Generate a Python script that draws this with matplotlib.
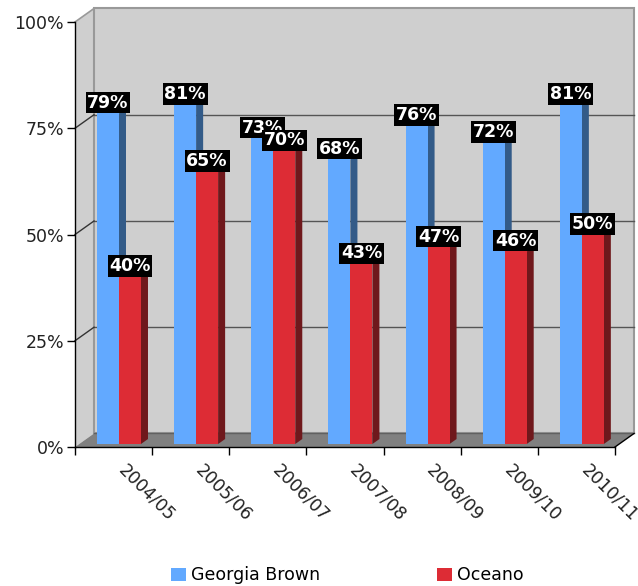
import numpy as np
import matplotlib
matplotlib.use("Agg")
import matplotlib.pyplot as plt
from matplotlib.patches import Polygon, Rectangle, Patch
from matplotlib.transforms import ScaledTranslation

# ---- data ----
seasons = ["2004/05", "2005/06", "2006/07", "2007/08", "2008/09", "2009/10", "2010/11"]
georgia_brown = [79, 81, 73, 68, 76, 72, 81]
oceano = [40, 65, 70, 43, 47, 46, 50]
series_names = ["Georgia Brown", "Oceano"]
y_ticks = [0, 25, 50, 75, 100]
y_tick_labels = ["0%", "25%", "50%", "75%", "100%"]

# ---- look ----
FACE = ["#62A9FF", "#DD2C35"]
SIDE = ["#335B88", "#6F181C"]
TOP = ["#4C8AD2", "#B0242B"]
WALL = "#CFCFCF"
FLOOR = "#808080"
FS = 12.5

# fake 3d: depth of the box in data units, bar placement inside it
DX, DY = 0.2463, 3.18
BAR_Z = 0.22      # front face of bars, fraction of depth
BAR_T = 0.37      # bar thickness, fraction of depth
BAR_W = 0.285
BAR_X = [0.285, 0.57]   # left edge of each series inside its slot
PERSP = 0.985

n = len(seasons)
fig = plt.figure(figsize=(6.38, 5.86), dpi=100)
ax = fig.add_axes([75 / 638, (586 - 447) / 586, 540 / 638, 425 / 586])
ax.set_xlim(0, n)
ax.set_ylim(0, 100)
ax.patch.set_visible(False)

# walls and floor
left_wall = Polygon([(0, 0), (DX, DY), (DX, 100 + DY), (0, 100)], closed=True,
                    fc=WALL, ec="none", zorder=0.5, clip_on=False)
back_wall = Polygon([(DX, DY), (n + DX, DY), (n + DX, 100 + DY), (DX, 100 + DY)], closed=True,
                    fc=WALL, ec="#999999", lw=1.5, zorder=0.5, clip_on=False)
floor = Polygon([(0, 0), (n, 0), (n + DX, DY), (DX, DY)], closed=True,
                fc=FLOOR, ec="none", zorder=0.7, clip_on=False)
ax.add_patch(left_wall)
ax.add_patch(back_wall)
ax.add_patch(floor)
ax.plot([0, DX], [100, 100 + DY], color="#999999", lw=1.2, zorder=0.6, clip_on=False)
ax.plot([DX, n + DX], [DY, DY], color="#606060", lw=1, zorder=0.8, clip_on=False)
ax.plot([n, n + DX], [0, DY], color="black", lw=1, zorder=0.8, clip_on=False)

for v in y_ticks[1:-1]:
    ax.plot([DX, n + DX], [v + DY, v + DY], color="#555555", lw=1, zorder=0.6, clip_on=False)
    ax.plot([0, DX], [v, v + DY], color="#333333", lw=1, zorder=0.6, clip_on=False)

# bars
for k, values in enumerate([georgia_brown, oceano]):
    for i, v in enumerate(values):
        x0 = i + BAR_X[k]
        y0 = BAR_Z * DY
        h = v * PERSP
        tx, ty = BAR_T * DX, BAR_T * DY
        ax.add_patch(Rectangle((x0, y0), BAR_W, h, fc=FACE[k], ec="none", zorder=2 + k))
        ax.add_patch(Polygon([(x0 + BAR_W, y0), (x0 + BAR_W + tx, y0 + ty),
                              (x0 + BAR_W + tx, y0 + h + ty), (x0 + BAR_W, y0 + h)],
                             closed=True, fc=SIDE[k], ec="none", zorder=1.9 + k))
        ax.add_patch(Polygon([(x0, y0 + h), (x0 + BAR_W, y0 + h),
                              (x0 + BAR_W + tx, y0 + h + ty), (x0 + tx, y0 + h + ty)],
                             closed=True, fc=TOP[k], ec="none", zorder=1.9 + k))
        ax.annotate(f"{v}%", (x0 + BAR_W / 2, y0 + h), xytext=(0, 0.1 * FS),
                    textcoords="offset points", ha="center", va="bottom",
                    color="white", fontsize=FS, fontweight="bold", zorder=10 + k,
                    bbox=dict(boxstyle="square,pad=0.1", fc="black", ec="none"),
                    annotation_clip=False)

# axes lines and ticks
for side in ["top", "right"]:
    ax.spines[side].set_visible(False)
for side in ["left", "bottom"]:
    ax.spines[side].set_color("black")
    ax.spines[side].set_linewidth(1)
    ax.spines[side].set_zorder(1)
ax.set_yticks(y_ticks)
ax.set_yticklabels(y_tick_labels, fontsize=FS, color="#222222")
ax.set_xticks(np.arange(n + 1))
ax.set_xticklabels([])
ax.tick_params(axis="both", direction="out", length=5.8, width=1, color="black", pad=2)

label_shift = ScaledTranslation(14 / 100, -14 / 100, fig.dpi_scale_trans)
for i, s in enumerate(seasons):
    ax.text(i + 0.5, 0, s, transform=ax.transData + label_shift, rotation=-45,
            rotation_mode="anchor", ha="left", va="top", fontsize=FS, color="#222222",
            clip_on=False)

handles = [Patch(fc=FACE[k], ec="none") for k in range(2)]
fig.legend(handles, series_names, loc="center left", bbox_to_anchor=(171 / 638, 10.5 / 586),
           ncol=2, frameon=False, fontsize=FS, handlelength=0.86, handleheight=0.86,
           handletextpad=0.3, columnspacing=6.7, borderpad=0, borderaxespad=0)

fig.savefig("out.png", dpi=100)
